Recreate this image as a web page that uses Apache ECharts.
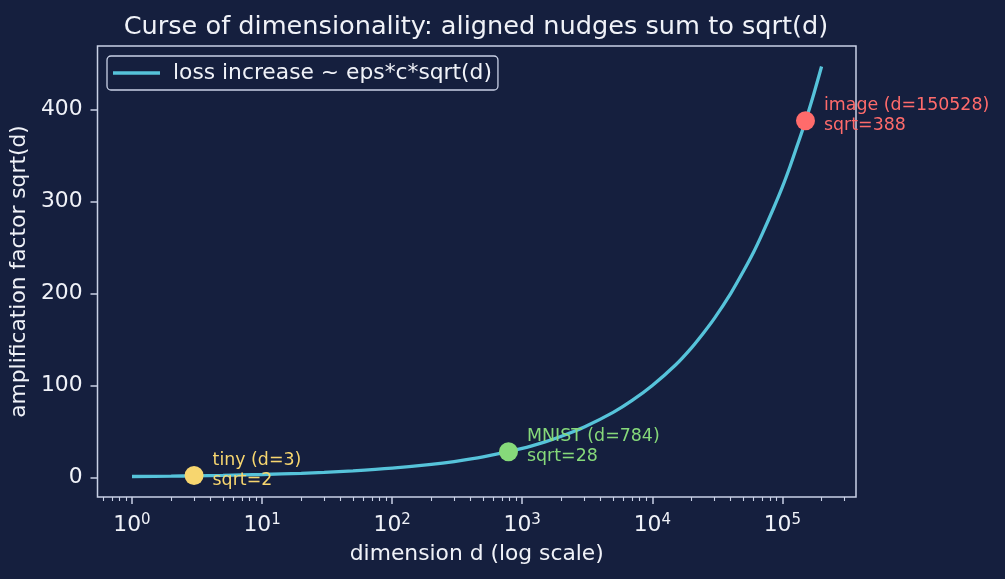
<!DOCTYPE html>
<html>
<head>
<meta charset="utf-8">
<script src="https://cdn.jsdelivr.net/npm/echarts@6/dist/echarts.min.js"></script>
<style>
  html, body { margin: 0; padding: 0; background: #151f3e; }
  #main { width: 1005px; height: 579px; }
</style>
</head>
<body>
<div id="main"></div>
<script>
// curve: dimension d -> sqrt(d)
var dims = [1, 2, 3, 5, 10, 20, 30, 50, 100, 200, 300, 500, 1000, 1500, 2000, 3000, 5000, 7000,
  10000, 15000, 20000, 25000, 30000, 40000, 50000, 60000, 70000, 85000, 100000, 115000, 130000, 150000, 175000, 200000];
var amp = [1, 1.41, 1.73, 2.24, 3.16, 4.47, 5.48, 7.07, 10, 14.1, 17.3, 22.4, 31.6, 38.7, 44.7, 54.8, 70.7, 83.7,
  100, 122, 141, 158, 173, 200, 224, 245, 265, 292, 316, 339, 361, 387, 418, 447];

// highlighted examples
var exNames = ['tiny', 'MNIST', 'image'];
var exDims = [3, 784, 150528];
var exSqrt = [2, 28, 388];

// ticks
var yTicks = [0, 100, 200, 300, 400];
var xMajor = [1, 10, 100, 1000, 10000, 100000];
var xMinor = [0.6, 0.7, 0.8, 0.9, 2, 3, 4, 5, 6, 7, 8, 9, 20, 30, 40, 50, 60, 70, 80, 90,
  200, 300, 400, 500, 600, 700, 800, 900, 2000, 3000, 4000, 5000, 6000, 7000, 8000, 9000,
  20000, 30000, 40000, 50000, 60000, 70000, 80000, 90000, 200000, 300000];

var exColors = ['#f7d66f', '#86d97a', '#ff6b6b'];
var frame = '#c9d1e6';
var txt = '#f0f2f8';
var font = 'DejaVu Sans';

var myChart = echarts.init(document.getElementById('main'));

var line = [];
for (var i = 0; i < dims.length; i++) {
  line.push([dims[i], amp[i]]);
}
var pts = [];
for (var i = 0; i < exNames.length; i++) {
  pts.push({
    name: exNames[i],
    value: [exDims[i], exSqrt[i]],
    itemStyle: { color: exColors[i], opacity: 1 },
    label: { color: exColors[i] }
  });
}

var option = {
  backgroundColor: '#151f3e',
  animation: false,
  textStyle: { fontFamily: font },
  title: {
    text: 'Curse of dimensionality: aligned nudges sum to sqrt(d)',
    left: 471,
    textAlign: 'center',
    top: 9,
    textStyle: { color: txt, fontSize: 25.6, fontWeight: 'normal', fontFamily: font }
  },
  legend: {
    left: 107,
    top: 56,
    orient: 'vertical',
    padding: [6, 6, 6, 6],
    borderColor: frame,
    borderWidth: 1.3,
    borderRadius: 4,
    itemWidth: 47,
    itemHeight: 3.5,
    itemGap: 0,
    icon: 'rect',
    textStyle: { color: txt, fontSize: 21.8, fontFamily: font, padding: [0, 0, 0, 8] },
    data: ['loss increase ~ eps*c*sqrt(d)']
  },
  grid: {
    left: 96, right: 149, top: 46, bottom: 82,
    show: true,
    borderColor: frame,
    borderWidth: 1.5
  },
  xAxis: [{
    type: 'log',
    min: 0.543,
    max: 368000,
    name: 'dimension d (log scale)',
    nameLocation: 'middle',
    nameGap: 46,
    nameTextStyle: { color: txt, fontSize: 21.8, fontFamily: font },
    axisLine: { show: false, onZero: false },
    splitLine: { show: false },
    axisTick: { show: true, length: 7, lineStyle: { color: frame, width: 1.5 }, customValues: xMajor },
    axisLabel: {
      customValues: xMajor,
      margin: 16,
      color: txt,
      formatter: function (v) {
        return '10{sup|' + Math.round(Math.log10(v)) + '}';
      },
      fontSize: 21.8,
      fontFamily: font,
      rich: {
        sup: { fontSize: 15, color: txt, fontFamily: font, verticalAlign: 'top', padding: [0, 0, 10, 0] }
      }
    }
  }, {
    type: 'log',
    min: 0.543,
    max: 368000,
    position: 'bottom',
    axisLine: { show: false, onZero: false },
    splitLine: { show: false },
    axisTick: { show: true, length: 4, lineStyle: { color: frame, width: 1.1 }, customValues: xMinor },
    axisLabel: { show: false }
  }],
  yAxis: {
    type: 'value',
    min: -21.3,
    max: 469.3,
    name: 'amplification factor sqrt(d)',
    nameLocation: 'middle',
    nameGap: 58,
    nameTextStyle: { color: txt, fontSize: 21.8, fontFamily: font },
    axisLine: { show: false, onZero: false },
    splitLine: { show: false },
    axisTick: { show: true, length: 7, lineStyle: { color: frame, width: 1.5 }, customValues: yTicks },
    axisLabel: { customValues: yTicks, margin: 15, color: txt, fontSize: 21.8, fontFamily: font }
  },
  series: [{
    name: 'loss increase ~ eps*c*sqrt(d)',
    type: 'line',
    data: line,
    smooth: 0.3,
    showSymbol: false,
    color: '#56c3da',
    lineStyle: { width: 3.3, color: '#56c3da' },
    z: 2
  }, {
    type: 'scatter',
    data: pts,
    symbolSize: 19,
    z: 3,
    label: {
      show: true,
      position: 'right',
      distance: 9,
      offset: [0, -5],
      fontSize: 17.4,
      lineHeight: 20,
      fontFamily: font,
      align: 'left',
      formatter: function (p) {
        return p.name + ' (d=' + p.value[0] + ')\nsqrt=' + p.value[1];
      }
    }
  }]
};

myChart.setOption(option);
</script>
</body>
</html>
